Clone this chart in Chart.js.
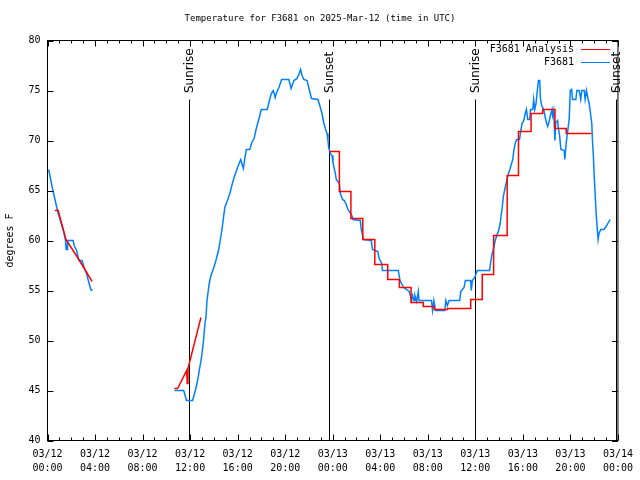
<!DOCTYPE html>
<html>
<head>
<meta charset="utf-8">
<script src="https://cdn.jsdelivr.net/npm/chart.js@4.4.1/dist/chart.umd.min.js"></script>
<style>
  body { margin: 0; background: #fff; }
  #wrap { width: 640px; height: 480px; }
</style>
</head>
<body>
<div id="wrap"><canvas id="chart" width="640" height="480"></canvas></div>
<script>
// time axis = hours after 03/12 00:00 UTC
const obsHours = [
  0.1, 0.25, 0.4, 0.63, 0.9, 1.13, 1.38, 1.52, 1.57, 1.61,
  1.65, 1.69, 2.16, 2.24, 2.45, 2.64, 2.91, 3.08, 3.28, 3.48,
  3.64, 3.79, 7,
  10.68, 11.46, 11.7, 12.21, 12.44, 12.63, 12.77, 12.96, 13.13, 13.25,
  13.33, 13.42, 13.61, 13.75, 13.97, 14.17, 14.39, 14.53, 14.67, 14.81,
  14.92, 15.14, 15.34, 15.51, 15.70, 15.90, 16.12, 16.26, 16.40, 16.48,
  16.60, 16.73, 17.02, 17.19, 17.38, 17.57, 17.80, 17.99, 18.49, 18.63,
  18.83, 19.00, 19.16, 19.25, 19.47, 19.70, 20.31, 20.50, 20.73, 21.00,
  21.21, 21.29, 21.42, 21.57, 21.84, 21.98, 22.21, 22.76, 22.91, 23.10,
  23.24, 23.38, 23.52, 23.60, 23.66, 23.80, 23.94, 24.02, 24.14, 24.22,
  24.30, 24.56, 24.64, 24.83, 24.97, 25.14, 25.28, 25.61, 25.70, 26.32,
  26.40, 26.59, 27.24, 27.35, 27.79, 27.91, 28.12, 28.18, 29.52, 29.66,
  29.97, 30.44, 30.64, 30.72, 30.84, 30.92, 31.06, 31.20, 31.26, 32.31,
  32.40, 32.51, 32.65, 33.43, 33.52, 33.65, 33.79, 34.69, 34.77, 35.05,
  35.16, 35.61, 35.66, 35.75, 35.95, 36.16, 37.20, 37.29, 37.40, 37.56,
  37.67, 37.81, 37.96, 38.09, 38.17, 38.26, 38.37, 38.46, 38.59, 38.68,
  38.79, 38.93, 39.07, 39.15, 39.24, 39.35, 39.49, 39.72, 39.80, 39.93,
  40.08, 40.18, 40.30, 40.41, 40.58, 40.64, 40.83, 40.91, 41.00, 41.11,
  41.19, 41.31, 41.42, 41.47, 41.58, 41.75, 41.89, 41.98, 42.09, 42.23,
  42.31, 42.45, 42.50, 42.59, 42.70, 42.76, 42.92, 42.98, 43.09, 43.20,
  43.48, 43.53, 43.65, 43.76, 43.90, 43.99, 44.10, 44.18, 44.46, 44.54,
  44.74, 44.87, 44.96, 45.16, 45.24, 45.35, 45.49, 45.58, 45.71, 45.80,
  45.85, 45.94, 46.00, 46.08, 46.16, 46.27, 46.33, 46.41, 46.55, 46.83,
  47.05, 47.34
];
const obsTemps = [
  67.1, 66.2, 65.3, 64.1, 62.7, 61.8, 60.8, 60, 59.1, 59.6,
  59.1, 60, 60, 59.5, 59, 58, 58, 57.3, 56.7, 55.8,
  55.1, 55, null,
  45, 45, 44, 44, 45, 46, 47, 48.3, 50, 51.7,
  52.3, 54, 55.7, 56.5, 57.2, 58, 59, 60, 61, 62.3,
  63.3, 64, 64.7, 65.5, 66.3, 67, 67.7, 68.1, 67.5, 67.2,
  68.2, 69.1, 69.1, 69.8, 70.2, 71.2, 72.2, 73.1, 73.1, 73.8,
  74.7, 75, 74.3, 74.7, 75.3, 76.1, 76.1, 75.2, 76, 76.2,
  76.8, 77.1, 76.5, 76.1, 76, 75.3, 74.2, 74.1, 73.5, 72.7,
  71.8, 71.2, 70.7, 70, 69.3, 68.7, 68.5, 67.8, 67.1, 66.7,
  66.1, 65.7, 64.7, 64.1, 64, 63.6, 63.1, 62.5, 62.1, 62,
  61.1, 60.1, 60, 59.1, 58.9, 58.2, 57.7, 57, 57, 56,
  55.3, 54.9, 54, 54.5, 54, 54.5, 53.9, 54.9, 54, 54,
  53, 54, 53, 53, 54, 53.5, 54, 54, 54.9, 55.3,
  56, 56, 55, 56, 56.3, 57, 57, 57.8, 58.6, 59.3,
  60, 60.5, 61, 61.7, 62.5, 63.3, 64.5, 65, 65.7, 66.2,
  66.7, 67.2, 67.8, 68.1, 69, 69.7, 70.1, 70.1, 70.8, 71.7,
  72, 72.6, 73.1, 72.1, 72.1, 73.1, 73.1, 74.1, 73.1, 73.7,
  74.7, 76, 76, 74.3, 73.5, 73.1, 72.3, 71.8, 71.4, 72,
  72.5, 73.1, 72.5, 73, 70, 71.8, 72, 71.3, 70.5, 69.1,
  69, 68.1, 69.8, 70.8, 72.2, 75, 75.1, 74.1, 74.1, 75,
  75, 74.1, 75, 75, 74.1, 75, 74.1, 73.7, 72.5, 71.7,
  70.1, 68.3, 66.5, 64.7, 62.8, 61, 60.1, 60.7, 61.1, 61.1,
  61.5, 62.1
];

// analysis: sloped pieces early on, then hourly steps
const anaHours = [0.63, 0.9, 1.55, 2.64, 3.75, 7, 10.68, 10.95, 11.71, 11.76, 11.82, 12.91];
const anaTemps = [63, 63, 60.1, 58.1, 55.9, null, 45.2, 45.2, 47, 45.7, 47.2, 52.3];
const anaStepHours = [23.74, 24.56, 25.53, 26.53, 27.54, 28.63, 29.61, 30.59, 31.62, 32.54,
  33.65, 35.61, 36.58, 37.54, 38.68, 39.63, 40.69, 41.67, 42.70, 43.65, 45.77];
const anaStepTemps = [68.9, 64.9, 62.2, 60.1, 57.6, 56.1, 55.3, 53.8, 53.4, 53.1,
  53.2, 54.1, 56.6, 60.5, 66.5, 70.9, 72.7, 73.1, 71.2, 70.7, 70.7];

const sunLabels = ['Sunrise', 'Sunset', 'Sunrise', 'Sunset'];
const sunHours = [11.9, 23.7, 35.97, 47.82];

const tickDates = ['03/12', '03/12', '03/12', '03/12', '03/12', '03/12', '03/13',
  '03/13', '03/13', '03/13', '03/13', '03/13', '03/14'];
const tickTimes = ['00:00', '04:00', '08:00', '12:00', '16:00', '20:00', '00:00',
  '04:00', '08:00', '12:00', '16:00', '20:00', '00:00'];

const RED = '#ff0000';
const BLUE = 'rgb(0,128,255)';
const monoFont = 'DejaVu Sans Mono';

const toPoints = (xs, ys) => xs.map((x, i) => ({ x: x, y: ys[i] }));

const gnuplotFrame = {
  id: 'gnuplotFrame',
  beforeDatasetsDraw(chart) {
    const { ctx, chartArea, scales: { x } } = chart;
    ctx.save();
    ctx.strokeStyle = '#000';
    ctx.lineWidth = 1;
    ctx.fillStyle = '#000';
    ctx.font = '12px "DejaVu Sans"';
    sunHours.forEach((h, i) => {
      const px = Math.round(x.getPixelForValue(h)) + 0.5;
      ctx.beginPath();
      ctx.moveTo(px, 99.5);
      ctx.lineTo(px, chartArea.bottom);
      ctx.stroke();
      ctx.save();
      ctx.translate(px, 93);
      ctx.rotate(-Math.PI / 2);
      ctx.textAlign = 'left';
      ctx.textBaseline = 'middle';
      ctx.fillText(sunLabels[i], 0, 0);
      ctx.restore();
    });
    ctx.restore();
  },
  afterDraw(chart) {
    const { ctx, chartArea: a, scales: { x, y } } = chart;
    ctx.save();
    ctx.strokeStyle = '#000';
    ctx.lineWidth = 1;
    ctx.strokeRect(a.left, a.top, a.right - a.left, a.bottom - a.top);
    ctx.beginPath();
    for (let v = 40; v <= 80; v += 5) {
      const py = Math.round(y.getPixelForValue(v)) + 0.5;
      ctx.moveTo(a.left, py); ctx.lineTo(a.left + 6, py);
      ctx.moveTo(a.right, py); ctx.lineTo(a.right - 6, py);
    }
    for (let h = 0; h <= 48; h++) {
      const px = Math.round(x.getPixelForValue(h)) + 0.5;
      const len = h % 4 === 0 ? 6 : 3;
      ctx.moveTo(px, a.bottom); ctx.lineTo(px, a.bottom - len);
      ctx.moveTo(px, a.top); ctx.lineTo(px, a.top + len);
    }
    ctx.stroke();

    // key, gnuplot style: text then sample line
    ctx.font = '10px ' + monoFont;
    ctx.fillStyle = '#000';
    ctx.textAlign = 'right';
    ctx.textBaseline = 'middle';
    const keys = [['F3681 Analysis', RED, 49.5], ['F3681', BLUE, 62.5]];
    keys.forEach(([label, color, ky]) => {
      ctx.fillText(label, 574, ky);
      ctx.strokeStyle = color;
      ctx.lineWidth = 1;
      ctx.beginPath();
      ctx.moveTo(581, ky);
      ctx.lineTo(610, ky);
      ctx.stroke();
    });
    ctx.restore();
  }
};

new Chart(document.getElementById('chart'), {
  type: 'line',
  data: {
    datasets: [
      {
        label: 'F3681 Analysis',
        data: toPoints(anaHours, anaTemps),
        borderColor: RED, borderWidth: 1.5, pointRadius: 0, spanGaps: false
      },
      {
        label: 'F3681 Analysis steps',
        data: toPoints(anaStepHours, anaStepTemps),
        borderColor: RED, borderWidth: 1.5, pointRadius: 0, stepped: 'before'
      },
      {
        label: 'F3681',
        data: toPoints(obsHours, obsTemps),
        borderColor: BLUE, borderWidth: 1.5, pointRadius: 0, spanGaps: false
      }
    ]
  },
  options: {
    responsive: false,
    animation: false,
    layout: { padding: 0 },
    plugins: {
      legend: { display: false },
      tooltip: { enabled: false },
      title: {
        display: true,
        text: 'Temperature for F3681 on 2025-Mar-12 (time in UTC)',
        color: '#000',
        font: { family: monoFont, size: 9, weight: 'normal', lineHeight: 1.2 },
        padding: { top: 13.5, bottom: 16.2 }
      }
    },
    scales: {
      x: {
        type: 'linear', min: 0, max: 48,
        grid: { display: false, drawTicks: false },
        border: { display: false },
        afterFit: s => { s.height = 39.5; },
        ticks: {
          stepSize: 4, color: '#000', padding: 7, maxRotation: 0, autoSkip: false,
          font: { family: monoFont, size: 10, lineHeight: 1.4 },
          callback: (v, i) => [tickDates[i], tickTimes[i]]
        }
      },
      y: {
        min: 40, max: 80,
        grid: { display: false, drawTicks: false },
        border: { display: false },
        afterFit: s => { s.width = 47.5; },
        ticks: {
          stepSize: 5, color: '#000', padding: 7,
          font: { family: monoFont, size: 10 }
        },
        title: {
          display: true, text: 'degrees F', color: '#000',
          font: { family: monoFont, size: 10, lineHeight: 1.2 },
          padding: { top: 4, bottom: 0 }
        }
      },
      // empty right margin, so the title centres on the whole canvas
      yRight: {
        position: 'right', min: 40, max: 80,
        grid: { display: false, drawTicks: false },
        border: { display: false },
        ticks: { display: false },
        afterFit: s => { s.width = 19.5; }
      }
    }
  },
  plugins: [gnuplotFrame]
});
</script>
</body>
</html>
